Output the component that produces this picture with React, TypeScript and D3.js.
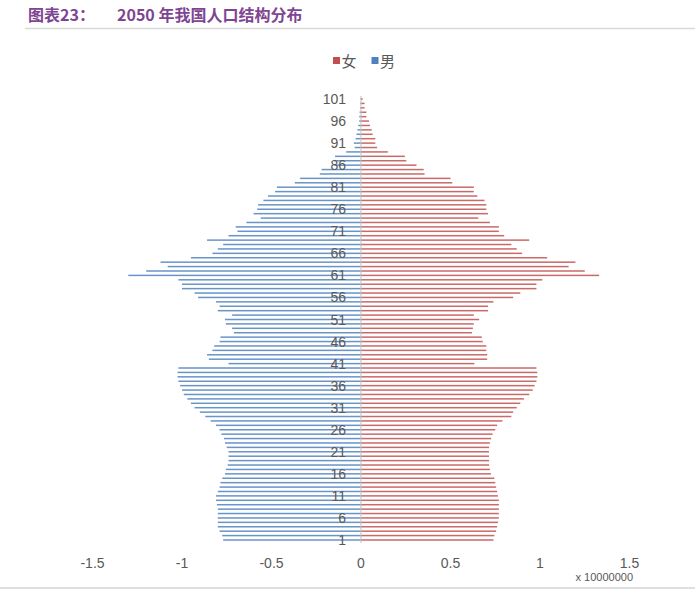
import React from "react";
import * as d3 from "d3";

const ages: number[] = d3.range(1, 102);

// Male population (x 10,000,000), age index 1..101
const male: number[] = [
  0.77, 0.775, 0.79, 0.8, 0.8, 0.8, 0.8, 0.8, 0.805, 0.81,
  0.81, 0.8, 0.79, 0.785, 0.775, 0.76, 0.755, 0.745, 0.74, 0.74,
  0.74, 0.75, 0.76, 0.765, 0.78, 0.79, 0.81, 0.84, 0.87, 0.9,
  0.93, 0.95, 0.97, 0.99, 1.0, 1.01, 1.02, 1.025, 1.025, 1.02,
  0.74, 0.85, 0.86, 0.83, 0.82, 0.79, 0.785, 0.71, 0.72, 0.755,
  0.76, 0.72, 0.8, 0.79, 0.81, 0.91, 0.93, 1.0, 1.0, 1.02,
  1.3, 1.2, 1.08, 1.12, 0.95, 0.83, 0.8, 0.77, 0.86, 0.74,
  0.69, 0.7, 0.64, 0.56, 0.6, 0.58, 0.575, 0.545, 0.52, 0.48,
  0.47, 0.37, 0.34, 0.23, 0.22, 0.15, 0.15, 0.145, 0.083, 0.035,
  0.04, 0.03, 0.025, 0.02, 0.015, 0.01, 0.01, 0.008, 0.005, 0.004,
  0.003,
];

// Female population (x 10,000,000)
const female: number[] = [
  0.74, 0.745, 0.755, 0.76, 0.765, 0.77, 0.77, 0.77, 0.77, 0.77,
  0.765, 0.76, 0.755, 0.75, 0.745, 0.726, 0.72, 0.716, 0.715, 0.715,
  0.715, 0.716, 0.72, 0.727, 0.735, 0.75, 0.76, 0.79, 0.84, 0.85,
  0.87, 0.89, 0.91, 0.94, 0.96, 0.97, 0.98, 0.985, 0.985, 0.98,
  0.633, 0.705, 0.705, 0.7, 0.7, 0.68, 0.675, 0.62, 0.625, 0.63,
  0.66, 0.63, 0.71, 0.71, 0.74, 0.85, 0.89, 0.98, 0.98, 1.013,
  1.33, 1.25, 1.16, 1.198, 1.04, 0.9, 0.87, 0.84, 0.94, 0.8,
  0.77, 0.77, 0.72, 0.655, 0.71, 0.7, 0.7, 0.69, 0.65, 0.63,
  0.63, 0.51, 0.5, 0.355, 0.35, 0.31, 0.253, 0.245, 0.15, 0.09,
  0.08, 0.08, 0.065, 0.06, 0.05, 0.045, 0.03, 0.03, 0.02, 0.02,
  0.01,
];

const xTicks: number[] = [-1.5, -1, -0.5, 0, 0.5, 1, 1.5];
const yTickAges: number[] = [1, 6, 11, 16, 21, 26, 31, 36, 41, 46, 51, 56, 61, 66, 71, 76, 81, 86, 91, 96, 101];
const legendItems = [
  { label: "女", color: "#c0504d" },
  { label: "男", color: "#4f81bd" },
];
const titleText = "图表23：";
const titleText2 = "2050 年我国人口结构分布";
const unitText = "x 10000000";

export default function App() {
  const W = 695;
  const H = 589;
  const x = d3.scaleLinear().domain([-1.5, 1.5]).range([92.5, 629.5]);
  const y = d3
    .scaleBand<number>()
    .domain([...ages].reverse())
    .range([96.8, 542.2])
    .paddingInner(0.6)
    .paddingOuter(0.3);
  const bh = 1.5;
  const rowCenter = (a: number) => (y(a) as number) + y.bandwidth() / 2;
  const font = "'Liberation Sans', Arial, sans-serif";

  return (
    <svg
      width={W}
      height={H}
      style={{ position: "absolute", left: 0, top: 0, background: "#fff" }}
    >
      <rect x={0} y={0} width={W} height={H} fill="#fff" />
      {/* Title */}
      <text x={28} y={21} fontFamily="'Noto Sans CJK SC', sans-serif" fontWeight={700} fontSize={16} fill="#7e4592">
        {titleText}
      </text>
      <text x={117} y={21} fontFamily="'Noto Sans CJK SC', sans-serif" fontWeight={700} fontSize={16} fill="#7e4592">
        {titleText2}
      </text>
      <line x1={25} x2={W} y1={28.5} y2={28.5} stroke="#d9d9d9" strokeWidth={1.5} />

      {/* Legend */}
      {legendItems.map((d, i) => {
        const lx = 333 + i * 38.5;
        return (
          <g key={d.label}>
            <rect x={lx} y={57} width={7} height={7} fill={d.color} />
            <text
              x={lx + 8.5}
              y={60.5}
              dominantBaseline="central"
              fontFamily="'Noto Sans CJK SC', sans-serif"
              fontSize={15}
              fill="#595959"
            >
              {d.label}
            </text>
          </g>
        );
      })}

      {/* Bars */}
      {ages.map((a, i) => (
        <g key={a}>
          <rect
            x={x(-male[i])}
            y={rowCenter(a) - bh / 2}
            width={x(0) - x(-male[i])}
            height={bh}
            fill="#4f81bd"
            opacity={0.85}
          />
          <rect
            x={x(0)}
            y={rowCenter(a) - bh / 2}
            width={x(female[i]) - x(0)}
            height={bh}
            fill="#c0504d"
            opacity={0.85}
          />
        </g>
      ))}

      {/* Vertical axis line */}
      <line x1={x(0)} x2={x(0)} y1={96} y2={543} stroke="#bfbfbf" strokeWidth={1} />

      {/* Y labels */}
      {yTickAges.map((a) => (
        <text
          key={a}
          x={346}
          y={rowCenter(a)}
          textAnchor="end"
          dominantBaseline="central"
          fontFamily={font}
          fontSize={14}
          fill="#595959"
        >
          {a}
        </text>
      ))}

      {/* X tick labels */}
      {xTicks.map((t) => (
        <text
          key={t}
          x={x(t)}
          y={563}
          textAnchor="middle"
          dominantBaseline="central"
          fontFamily={font}
          fontSize={14}
          fill="#595959"
        >
          {String(t)}
        </text>
      ))}
      <text x={633} y={577} textAnchor="end" dominantBaseline="central" fontFamily={font} fontSize={11} fill="#595959">
        {unitText}
      </text>

      <line x1={0} x2={W} y1={588} y2={588} stroke="#e0e0e0" strokeWidth={2} />
    </svg>
  );
}
